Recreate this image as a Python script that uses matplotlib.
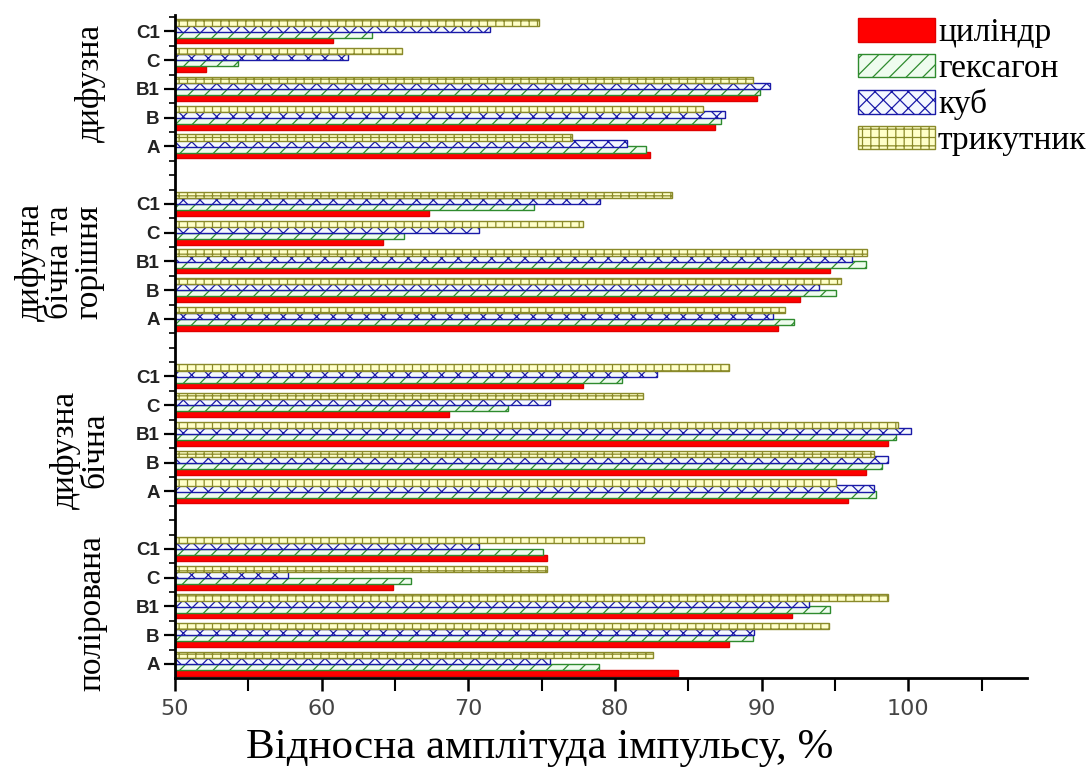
import numpy as np
import matplotlib
matplotlib.use('Agg')
import matplotlib.pyplot as plt
from matplotlib.ticker import FixedLocator

# дані: відносна амплітуда, %
cat_labels = ['A', 'B', 'B1', 'C', 'C1']
groups = ['полірована', 'дифузна\nбічна', 'дифузна\nбічна та\nгорішня', 'дифузна']
series = ['циліндр', 'гексагон', 'куб', 'трикутник']

# порядок у кожній групі: A, B, B1, C, C1
cylinder = [
    [84.3, 87.8, 92.1, 64.9, 75.4],   # полірована
    [95.9, 97.1, 98.6, 68.7, 77.8],   # дифузна бічна
    [91.1, 92.6, 94.7, 64.2, 67.3],   # дифузна бічна та горішня
    [82.4, 86.8, 89.7, 52.1, 60.8],   # дифузна
]
hexagon = [
    [78.9, 89.4, 94.7, 66.1, 75.1],
    [97.8, 98.2, 99.2, 72.7, 80.5],
    [92.2, 95.1, 97.1, 65.6, 74.5],
    [82.1, 87.2, 89.9, 54.3, 63.4],
]
cube = [
    [75.6, 89.5, 93.2, 57.7, 70.7],
    [97.7, 98.6, 100.2, 75.6, 82.9],
    [90.8, 93.9, 96.2, 70.7, 79.0],
    [80.8, 87.5, 90.6, 61.8, 71.5],
]
triangle = [
    [82.6, 94.6, 98.6, 75.4, 82.0],
    [95.1, 97.7, 99.3, 81.9, 87.8],
    [91.6, 95.4, 97.2, 77.8, 83.9],
    [77.1, 86.0, 89.4, 65.5, 74.8],
]

styles = [
    dict(facecolor='#ff0000', edgecolor='#e00000', hatch=None),
    dict(facecolor='#eefcee', edgecolor='#2e8b2e', hatch='//'),
    dict(facecolor='#f4f8ff', edgecolor='#1a1aa8', hatch='xx'),
    dict(facecolor='#ffffc8', edgecolor='#8a8a2a', hatch='++'),
]

plt.rcParams['hatch.linewidth'] = 0.9

W, H = 1091, 769
fig = plt.figure(figsize=(W / 100, H / 100), dpi=100)
ax = fig.add_axes([175 / W, 91 / H, 852 / W, 663 / H])

base = 50
bar_h = 0.22
offsets = [-0.31, -0.105, 0.105, 0.31]
data = [cylinder, hexagon, cube, triangle]

ypos = []
ylab = []
for g in range(len(groups)):
    for c in range(len(cat_labels)):
        ypos.append(g * 6 + c)
        ylab.append(cat_labels[c])
ypos = np.array(ypos)

for s, (vals, st) in enumerate(zip(data, styles)):
    v = np.array(vals).ravel()
    ax.barh(ypos + offsets[s], v - base, left=base, height=bar_h,
            facecolor=st['facecolor'], edgecolor=st['edgecolor'],
            hatch=st['hatch'], linewidth=1.0, label=series[s])

ax.set_xlim(50, 108.1)
ax.set_ylim(-0.49, 22.57)

for sp in ['top', 'right']:
    ax.spines[sp].set_visible(False)
for sp in ['left', 'bottom']:
    ax.spines[sp].set_linewidth(2.0)

ax.set_xticks(np.arange(50, 101, 10))
ax.xaxis.set_minor_locator(FixedLocator(np.arange(55, 108, 10)))
ax.set_xticklabels([str(t) for t in range(50, 101, 10)],
                   family=['Liberation Sans Narrow', 'DejaVu Sans'],
                   fontsize=16, color='#444444')
ax.tick_params(axis='x', which='major', direction='out', length=9, width=1.8, pad=6)
ax.tick_params(axis='x', which='minor', direction='out', length=9, width=1.5)

ax.set_yticks(ypos)
ax.set_yticklabels(ylab, fontweight='bold', fontsize=13.5,
                   family=['Liberation Sans', 'DejaVu Sans'], color='#222222')
minor_y = [y for y in np.arange(-0.5, 22.6, 0.5) if y not in set(ypos)]
ax.yaxis.set_minor_locator(FixedLocator(minor_y))
ax.tick_params(axis='y', which='major', direction='out', length=8, width=1.6, pad=3)
ax.tick_params(axis='y', which='minor', direction='out', length=4, width=1.2)

serif = ['Liberation Serif', 'DejaVu Serif']

fig.text(540 / W, 1 - 748 / H, 'Відносна амплітуда імпульсу, %',
         ha='center', va='center', fontsize=31, family=serif)

# підписи груп
group_pos = [(92, 613), (80, 450), (60, 262), (90, 83)]
for name, (px, py) in zip(groups, group_pos):
    fig.text(px / W, 1 - py / H, name, rotation=90, ha='center', va='center',
             fontsize=24, family=serif, linespacing=0.95, multialignment='center')

leg = ax.legend(loc='upper left', bbox_to_anchor=(858 / W, 1 - 18 / H),
                bbox_transform=fig.transFigure, frameon=False,
                prop={'family': serif, 'size': 24},
                handlelength=2.3, handleheight=0.7, labelspacing=0.15,
                handletextpad=0.1, borderaxespad=0, borderpad=0)

fig.savefig('out.png', dpi=100)
